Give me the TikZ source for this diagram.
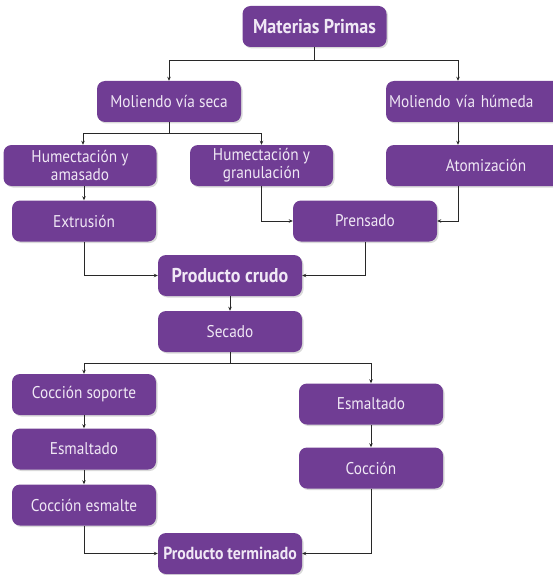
\documentclass[tikz,border=0pt]{standalone}
\usepackage{fontspec}
\setmainfont[FakeStretch=0.9]{PT Sans}
\usetikzlibrary{arrows.meta,shadows}
\definecolor{boxpurple}{RGB}{112,61,148}
\definecolor{boxtext}{RGB}{240,232,245}
\definecolor{linegray}{RGB}{40,40,40}
\begin{document}
\begin{tikzpicture}[x=1pt,y=-1pt,
  stage/.style={rectangle, rounded corners=8pt, fill=boxpurple, text=boxtext,
    minimum width=144pt, minimum height=41pt, inner sep=2pt,
    font=\fontsize{17}{18}\selectfont, align=center,
    drop shadow={opacity=0.3, shadow xshift=1.5pt, shadow yshift=-1.5pt}},
  keystage/.style={stage, font=\fontsize{20}{21}\selectfont\bfseries},
  flow/.style={draw=linegray, line width=0.8pt, -{Stealth[length=4pt,width=3.5pt]}},
  link/.style={draw=linegray, line width=0.8pt}]
\useasboundingbox (0,0) rectangle (553,575);
\clip (0,0) rectangle (553,575);

% stages
\node[keystage] (mp) at (314.5,26.5) {Materias Primas};
\node[stage] (mvs) at (169,101.5) {Moliendo vía seca};
\node[stage, minimum width=200pt, text width=194pt, align=left] (mvh) at (486,101.5) {Moliendo vía húmeda};
\node[stage, minimum width=153pt] (hua) at (80,165.5) {Humectación y\\amasado};
\node[stage, minimum width=143pt] (hug) at (261.5,165.5) {Humectación y\\granulación};
\node[stage, minimum width=200pt] (ato) at (486,165.5) {Atomización};
\node[stage] (ext) at (84,221) {Extrusión};
\node[stage] (pre) at (365,221) {Prensado};
\node[keystage] (pc) at (230,275.5) {Producto crudo};
\node[stage] (sec) at (230,331.5) {Secado};
\node[stage] (cs) at (84,394.5) {Cocción soporte};
\node[stage] (esl) at (84,449) {Esmaltado};
\node[stage] (ce) at (84,505) {Cocción esmalte};
\node[stage] (esr) at (371,404) {Esmaltado};
\node[stage] (coc) at (371,468) {Cocción};
\node[keystage, font=\fontsize{17.5}{19}\selectfont\bfseries] (pt) at (230,553.5) {Producto terminado};

% connectors
\draw[link] (mp.south) -- ++(0,13) coordinate (j1);
\draw[flow] (j1) -| (mvs.north);
\draw[flow] (j1) -| ([xshift=-28pt]mvh.north);

\draw[link] (mvs.south) -- ++(0,11) coordinate (j2);
\draw[flow] (j2) -| ([xshift=3pt]hua.north);
\draw[flow] (j2) -| (hug.north);

\draw[flow] ([xshift=-28pt]mvh.south) -- ([xshift=-28pt]ato.north);

\draw[flow] (hua.south -| ext.north) -- (ext.north);
\draw[flow] (hug.south) |- (pre.west);
\draw[flow] ([xshift=-28pt]ato.south) |- (pre.east);

\draw[flow] (ext.south) |- (pc.west);
\draw[flow] (pre.south) |- (pc.east);
\draw[flow] (pc.south) -- (sec.north);

\draw[link] (sec.south) -- ++(0,11) coordinate (j3);
\draw[flow] (j3) -| (cs.north);
\draw[flow] (j3) -| (esr.north);

\draw[flow] (cs.south) -- (esl.north);
\draw[flow] (esl.south) -- (ce.north);
\draw[flow] (esr.south) -- (coc.north);

\draw[flow] (ce.south) |- (pt.west);
\draw[flow] (coc.south) |- (pt.east);
\end{tikzpicture}
\end{document}
